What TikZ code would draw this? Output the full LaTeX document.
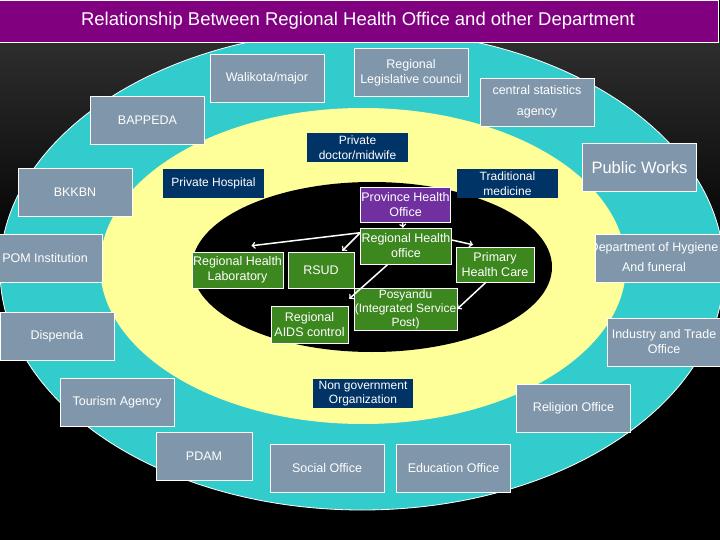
\documentclass[tikz,border=0pt]{standalone}
\usepackage{fontspec}
\setmainfont{Liberation Sans}

\definecolor{titlepurple}{RGB}{128,0,128}
\definecolor{ringcyan}{RGB}{51,204,204}
\definecolor{ringyellow}{RGB}{255,255,153}
\definecolor{deptgray}{RGB}{128,150,170}
\definecolor{privnavy}{RGB}{0,51,102}
\definecolor{healthgreen}{RGB}{60,135,30}
\definecolor{provpurple}{RGB}{112,48,160}

\begin{document}
\begin{tikzpicture}[x=1pt, y=-1pt,
  every node/.style={font=\fontsize{12.5}{15}\selectfont, text=white, align=center, inner sep=1pt},
  dept/.style={draw=white, line width=0.6pt, fill=deptgray, minimum width=114, minimum height=48},
  priv/.style={fill=privnavy, minimum width=101, minimum height=29, font=\fontsize{12}{14.5}\selectfont},
  unit/.style={draw=white, line width=0.5pt, fill=healthgreen},
  link/.style={->, white, line width=1.5pt}]

% Background
\clip (0,0) rectangle (720,540);
\fill[black] (0,0) rectangle (720,540);
\shade[top color=black!82!white, bottom color=black] (0,42) rectangle (720,260);

% Rings
\filldraw[fill=ringcyan, draw=white, line width=0.8pt] (362,270) ellipse [x radius=362pt, y radius=240pt];
\fill[ringyellow] (363,266) ellipse [x radius=263pt, y radius=158pt];
\fill[black] (372,267) ellipse [x radius=180pt, y radius=85pt];

% Title
\node[fill=titlepurple, draw=white, line width=0.8pt, minimum width=720, minimum height=42, inner sep=0pt,
      font=\fontsize{18.5}{20}\selectfont] (title) at (358,21) {Relationship Between Regional Health Office and other Department};

% Outer ring departments
\node[dept] (walikota) at (267,78) {Walikota/major};
\node[dept] (dprd) at (411,72.5) {Regional\\Legislative council};
\node[dept, font=\fontsize{12.5}{21}\selectfont] (bps) at (537,102) {central statistics\\agency};
\node[dept] (bappeda) at (147.5,120) {BAPPEDA};
\node[dept, font=\fontsize{16.5}{19}\selectfont] (works) at (639.5,167.5) {Public Works};
\node[dept] (bkkbn) at (75,192) {BKKBN};
\node[dept] (pom) at (45,258) {POM Institution};
\node[dept, minimum width=125] (hygiene) at (657.5,258) {};
\begin{scope}
  \clip (hygiene.north west) rectangle (hygiene.south east);
  \node[font=\fontsize{12.5}{20}\selectfont] (hygienetext) at (654,257) {Department of Hygiene\\And funeral};
\end{scope}
\node[dept] (industry) at (664,342) {Industry and Trade\\Office};
\node[dept] (dispenda) at (57,336) {Dispenda};
\node[dept] (tourism) at (117,402) {Tourism Agency};
\node[dept] (religion) at (573.5,408) {Religion Office};
\node[dept, minimum width=96] (pdam) at (204,456) {PDAM};
\node[dept] (social) at (327,468) {Social Office};
\node[dept] (education) at (453.5,468) {Education Office};

% Private sector
\node[priv] (doctor) at (357.5,147.5) {Private\\doctor/midwife};
\node[priv] (hospital) at (213.5,183.5) {Private Hospital};
\node[priv] (traditional) at (507.5,183.5) {Traditional\\medicine};
\node[priv, minimum width=100] (ngo) at (363,393.5) {Non government\\Organization};

% Health units
\node[unit, fill=provpurple, minimum width=89, minimum height=35] (province) at (405.5,204.5) {Province Health\\Office};
\node[unit, minimum width=90, minimum height=36] (rho) at (406,246) {Regional Health\\office};
\node[unit, minimum width=91, minimum height=36] (lab) at (237.5,270) {Regional Health\\Laboratory};
\node[unit, minimum width=66, minimum height=36] (rsud) at (321,270) {RSUD};
\node[unit, minimum width=78, minimum height=35] (phc) at (495,264.5) {Primary\\Health Care};
\node[unit, minimum width=103, minimum height=42, inner sep=0pt, font=\fontsize{12}{14}\selectfont] (posyandu) at (405.5,309) {Posyandu\\(Integrated Service\\Post)};
\node[unit, minimum width=77, minimum height=37] (aids) at (309.5,324.5) {Regional\\AIDS control};

% Connections
\draw[link] ([xshift=-3]province.south) -- ([xshift=-3]rho.north);
\draw[link] ([yshift=-5]rho.north west) -- ([shift={(14,-6)}]lab.north);
\draw[link] ([yshift=-5]rho.north west) -- ([shift={(-12,-1)}]rsud.north east);
\draw[link] ([yshift=6]rho.east) -- ([shift={(-22,-2)}]phc.north);
\draw[link] ([xshift=-18]rho.south) -- ([shift={(1,-7)}]aids.north east);
\draw[link] ([xshift=-9]phc.south) -- (posyandu.east);

\end{tikzpicture}
\end{document}
